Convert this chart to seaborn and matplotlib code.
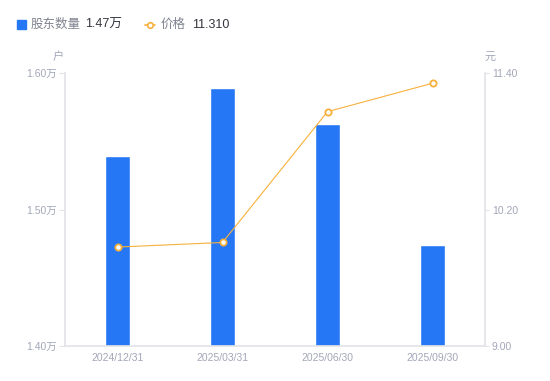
import numpy as np
import pandas as pd
import matplotlib
matplotlib.use("Agg")
import matplotlib.pyplot as plt
from matplotlib.lines import Line2D
from matplotlib.patches import Rectangle
import seaborn as sns

dates = ["2024/12/31", "2025/03/31", "2025/06/30", "2025/09/30"]
holders = [1.539, 1.589, 1.563, 1.474]   # 万户
prices = [9.87, 9.91, 11.06, 11.31]      # 元
left_ticks = [1.40, 1.50, 1.60]
right_ticks = [9.00, 10.20, 11.40]

sns.set_theme(style="white")
plt.rcParams['font.family'] = ['Liberation Sans', 'Noto Sans CJK SC', 'DejaVu Sans']

BAR = "#2677f5"
LINE = "#f8b03c"
TICK = "#a3a6b8"
AXIS = "#e3e4e8"

fig = plt.figure(figsize=(5.5, 3.81), dpi=100)
ax = fig.add_axes([65/550, 35/381, 420/550, 273/381])
df = pd.DataFrame({"date": dates, "holders": holders, "price": prices})
sns.barplot(data=df, x="date", y="holders", color=BAR, width=0.23, ax=ax,
            saturation=1)
ax.set_ylim(1.40, 1.60)
ax.set_xlim(-0.5, len(dates) - 0.5)
ax.set_yticks(left_ticks)
ax.set_yticklabels([f"{v:.2f}万" for v in left_ticks])
ax.set_xlabel("")
ax.set_ylabel("")

ax2 = ax.twinx()
sns.lineplot(x=np.arange(len(dates)), y=prices, ax=ax2, color=LINE, lw=0.8,
             marker="o", markersize=4.5, markerfacecolor="white",
             markeredgecolor=LINE, markeredgewidth=1.3)
ax2.set_ylim(9.00, 11.40)
ax2.set_yticks(right_ticks)
ax2.set_yticklabels([f"{v:.2f}" for v in right_ticks])

for a in (ax, ax2):
    for s in a.spines.values():
        s.set_visible(False)
    a.grid(False)
ax.spines['left'].set_visible(True)
ax.spines['left'].set_color(AXIS)
ax.spines['bottom'].set_visible(True)
ax.spines['bottom'].set_color(AXIS)
ax2.spines['right'].set_visible(True)
ax2.spines['right'].set_color(AXIS)

ax.tick_params(axis='y', colors=TICK, labelsize=7.5, length=4, width=0.8,
               left=True, color=AXIS, pad=2)
ax.tick_params(axis='y', labelcolor=TICK)
ax.tick_params(axis='x', colors=TICK, labelsize=7.5, length=0, pad=5)
ax2.tick_params(axis='y', labelcolor=TICK, labelsize=7.5, length=3, width=0.8,
                right=True, color=AXIS, pad=2)

fig.text(58/550, 1 - 57/381, "户", color=TICK, fontsize=8, ha="center", va="center")
fig.text(490/550, 1 - 57/381, "元", color=TICK, fontsize=8, ha="center", va="center")

# legend
fig.patches.append(Rectangle((17/550, 1 - 29/381), 9/550, 9/381,
                             transform=fig.transFigure, color=BAR, figure=fig))
fig.text(31/550, 1 - 24.5/381, "股东数量", color="#80838f", fontsize=9, va="center")
fig.text(85/550, 1 - 24.5/381, "1.47万", color="#33353d", fontsize=9, va="center")
fig.lines.append(Line2D([145/550, 155/550], [1 - 24.5/381, 1 - 24.5/381],
                        transform=fig.transFigure, color=LINE, lw=1.2))
fig.lines.append(Line2D([150/550], [1 - 24.5/381], transform=fig.transFigure,
                        color=LINE, marker="o", markersize=4,
                        markerfacecolor="white", markeredgewidth=1.2))
fig.text(161/550, 1 - 24.5/381, "价格", color="#80838f", fontsize=9, va="center")
fig.text(192/550, 1 - 24.5/381, "11.310", color="#33353d", fontsize=9, va="center")

fig.savefig("out.png", dpi=100)
